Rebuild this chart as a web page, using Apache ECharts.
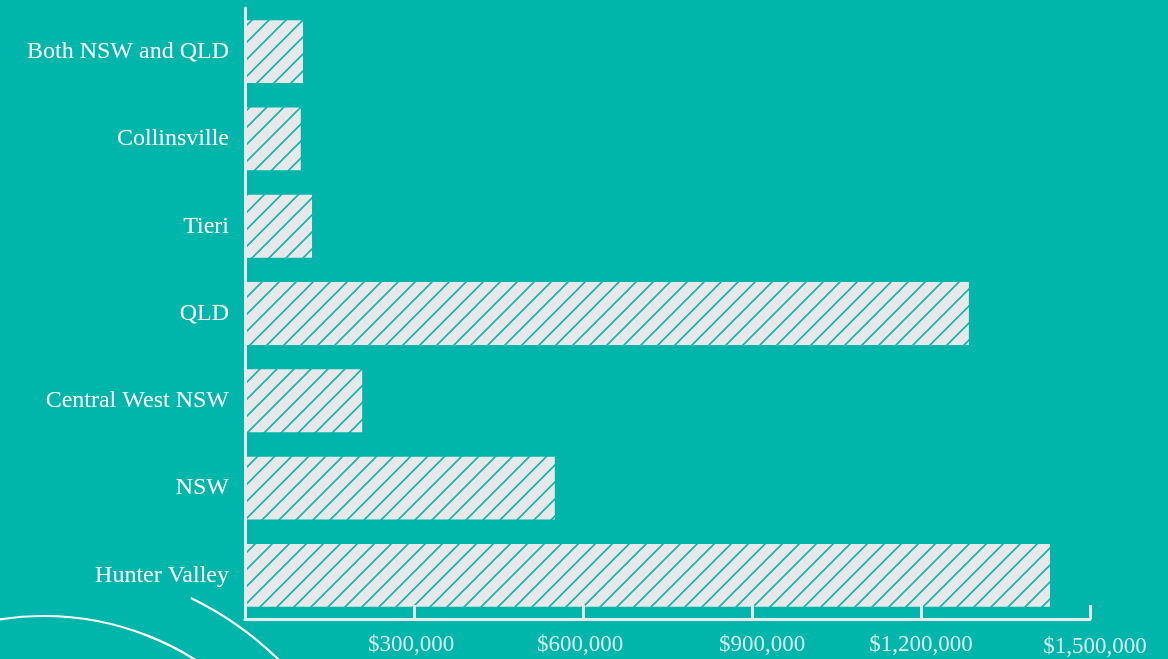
<!DOCTYPE html>
<html>
<head>
<meta charset="utf-8">
<script src="https://cdn.jsdelivr.net/npm/echarts@6/dist/echarts.min.js"></script>
<style>
html,body{margin:0;padding:0;background:#00b5aa;}
#chart{width:1168px;height:659px;}
</style>
</head>
<body>
<div id="chart"></div>
<script>
var categories = ['Both NSW and QLD', 'Collinsville', 'Tieri', 'QLD', 'Central West NSW', 'NSW', 'Hunter Valley'];
var values = [103000, 99000, 119000, 1285000, 208000, 550000, 1429000];
var tickValues = [0, 300000, 600000, 900000, 1200000, 1500000];

function hatch() {
  var s = 17;
  var c = document.createElement('canvas');
  c.width = s; c.height = s;
  var g = c.getContext('2d');
  g.fillStyle = '#e6e8e9';
  g.fillRect(0, 0, s, s);
  g.strokeStyle = '#14b4aa';
  g.lineWidth = 1.6;
  g.beginPath();
  g.moveTo(-2, s + 2); g.lineTo(s + 2, -2);
  g.moveTo(-2, 2); g.lineTo(2, -2);
  g.moveTo(s - 2, s + 2); g.lineTo(s + 2, s - 2);
  g.stroke();
  return c;
}

function fmt(v) {
  return '$' + v.toLocaleString('en-US');
}

var lab = { fontFamily: 'Liberation Serif', fontSize: 23, color: '#d9ebe9' };
var chart = echarts.init(document.getElementById('chart'));
chart.setOption({
  backgroundColor: '#00b5aa',
  animation: false,
  grid: { left: 245, right: 78, top: 8, bottom: 40, containLabel: false },
  xAxis: {
    type: 'value',
    z: 5,
    min: tickValues[0],
    max: tickValues[tickValues.length - 1],
    interval: tickValues[1] - tickValues[0],
    axisLine: { show: true, lineStyle: { color: '#e8eaea', width: 3 } },
    axisTick: { show: true, inside: true, length: 14, lineStyle: { color: '#e8eaea', width: 3 } },
    splitLine: { show: false },
    axisLabel: {
      showMinLabel: false,
      margin: 14,
      color: '#d9ebe9',
      fontFamily: 'Liberation Serif',
      fontSize: 23,
      formatter: function (v) {
        var k = v === 900000 ? 'b' : (v === 1200000 ? 'c' : (v === 1500000 ? 'd' : 'a'));
        return '{' + k + '|' + fmt(v) + '}';
      },
      rich: {
        a: Object.assign({ padding: [0, 6, 0, 0] }, lab),
        b: Object.assign({ padding: [0, 0, 0, 20] }, lab),
        c: Object.assign({ padding: [0, 0, 8, 0] }, lab),
        d: Object.assign({ padding: [2, 0, 0, 10] }, lab)
      }
    }
  },
  yAxis: {
    type: 'category',
    z: 5,
    inverse: true,
    data: categories,
    axisLine: { show: true, lineStyle: { color: '#e8eaea', width: 3 } },
    axisTick: { show: false },
    axisLabel: { margin: 16, color: '#ffffff', fontFamily: 'Liberation Serif', fontSize: 24 }
  },
  series: [{
    type: 'bar',
    data: values,
    barCategoryGap: '28%',
    itemStyle: { color: { image: hatch(), repeat: 'repeat' } }
  }],
  graphic: [
    { type: 'arc', shape: { cx: 44, cy: 899, r: 283, startAngle: -Math.PI, endAngle: 0 },
      style: { stroke: '#ffffff', lineWidth: 2.2, fill: null }, silent: true },
    { type: 'arc', shape: { cx: 44, cy: 899, r: 335, startAngle: -1.117, endAngle: -0.6 },
      style: { stroke: '#ffffff', lineWidth: 2.2, fill: null }, silent: true }
  ]
});
</script>
</body>
</html>
